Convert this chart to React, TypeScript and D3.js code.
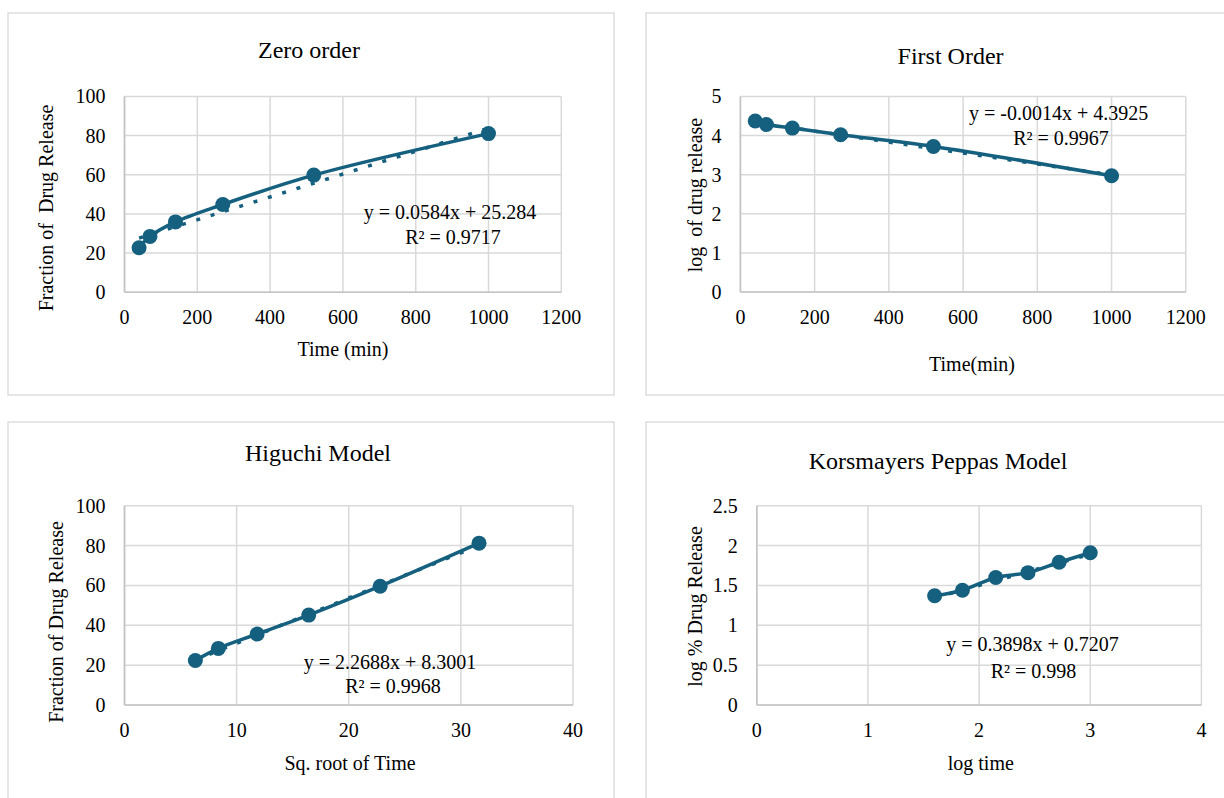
import React from 'react';
import * as d3 from 'd3';

// values
const timeMin = [40, 70, 140, 270, 520, 1000];
const zeroRelease = [22.7, 28.5, 35.9, 44.8, 59.8, 81.0];
const firstLogRelease = [4.37, 4.28, 4.19, 4.02, 3.72, 2.97];
const sqrtTime = [6.32, 8.37, 11.83, 16.43, 22.8, 31.62];
const higuchiRelease = [22.3, 28.4, 35.6, 45.1, 59.6, 81.2];
const logTime = [1.6, 1.85, 2.15, 2.44, 2.72, 3.0];
const logRelease = [1.37, 1.44, 1.6, 1.66, 1.79, 1.91];

// trendline coefficients [slope, intercept] as printed on the charts
const zeroFit = [0.0584, 25.284];
const firstFit = [-0.0014, 4.3925];
const higuchiFit = [2.2688, 8.3001];
const peppasFit = [0.3898, 0.7207];

const timeTicks = [0, 200, 400, 600, 800, 1000, 1200];
const percentTicks = [0, 20, 40, 60, 80, 100];
const firstTicks = [0, 1, 2, 3, 4, 5];
const sqrtTicks = [0, 10, 20, 30, 40];
const logTimeTicks = [0, 1, 2, 3, 4];
const logReleaseTicks = [0, 0.5, 1, 1.5, 2, 2.5];

const BLUE = '#16607f';
const GRID = '#d9d9d9';
const FONT = '"Liberation Serif", "Times New Roman", serif';

type PanelProps = {
  box: [number, number, number, number];
  plot: [number, number, number, number]; // left, right, top, bottom
  title: string;
  titlePos: [number, number];
  xLabel: string;
  xLabelPos: [number, number];
  yLabel: string;
  yLabelPos: [number, number];
  xs: number[];
  ys: number[];
  xTicks: number[];
  yTicks: number[];
  fit: number[];
  eq: string;
  r2: string;
  eqPos: [number, number];
  r2Pos: [number, number];
};

const Panel = (p: PanelProps) => {
  const [left, right, top, bottom] = p.plot;
  const x = d3.scaleLinear()
    .domain([p.xTicks[0], p.xTicks[p.xTicks.length - 1]])
    .range([left, right]);
  const y = d3.scaleLinear()
    .domain([p.yTicks[0], p.yTicks[p.yTicks.length - 1]])
    .range([bottom, top]);

  const pts: [number, number][] = p.xs.map((v, i) => [v, p.ys[i]]);
  const line = d3.line<[number, number]>()
    .x(d => x(d[0]))
    .y(d => y(d[1]))
    .curve(d3.curveCatmullRom);

  const x0 = d3.min(p.xs)!;
  const x1 = d3.max(p.xs)!;
  const trend: [number, number][] = [x0, x1].map(v => [v, p.fit[0] * v + p.fit[1]]);

  return (
    <g>
      <rect x={p.box[0]} y={p.box[1]} width={p.box[2]} height={p.box[3]}
        fill="#fff" stroke={GRID} strokeWidth={1.3} />
      <text x={p.titlePos[0]} y={p.titlePos[1]} textAnchor="middle"
        fontSize={24} fill="#000">{p.title}</text>

      {p.yTicks.map(t => (
        <line key={'gy' + t} x1={left} x2={right} y1={y(t)} y2={y(t)}
          stroke={GRID} strokeWidth={1.5} />
      ))}
      {p.xTicks.map(t => (
        <line key={'gx' + t} x1={x(t)} x2={x(t)} y1={top} y2={bottom}
          stroke={GRID} strokeWidth={1.5} />
      ))}
      <line x1={left} x2={right} y1={bottom} y2={bottom} stroke="#c4c4c4" strokeWidth={1.6} />
      <line x1={left} x2={left} y1={top} y2={bottom} stroke="#c4c4c4" strokeWidth={1.6} />

      {p.yTicks.map(t => (
        <text key={'ty' + t} x={left - 19} y={y(t)} dy="0.35em" textAnchor="end"
          fontSize={20} fill="#000">{t}</text>
      ))}
      {p.xTicks.map(t => (
        <text key={'tx' + t} x={x(t)} y={bottom + 32} textAnchor="middle"
          fontSize={20} fill="#000">{t}</text>
      ))}

      <text x={p.xLabelPos[0]} y={p.xLabelPos[1]} textAnchor="middle"
        fontSize={20} fill="#000">{p.xLabel}</text>
      <text transform={`translate(${p.yLabelPos[0]},${p.yLabelPos[1]}) rotate(-90)`}
        dy="0.35em" textAnchor="middle" fontSize={20} fill="#000"
        style={{ whiteSpace: 'pre' }}>{p.yLabel}</text>

      <path d={d3.line<[number, number]>().x(d => x(d[0])).y(d => y(d[1]))(trend)!}
        fill="none" stroke={BLUE} strokeWidth={3.5} strokeDasharray="4 11" />
      <path d={line(pts)!} fill="none" stroke={BLUE} strokeWidth={3.5} />
      {pts.map((d, i) => (
        <circle key={i} cx={x(d[0])} cy={y(d[1])} r={7.5} fill={BLUE} />
      ))}

      <text x={p.eqPos[0]} y={p.eqPos[1]} textAnchor="middle" fontSize={20} fill="#000">{p.eq}</text>
      <text x={p.r2Pos[0]} y={p.r2Pos[1]} textAnchor="middle" fontSize={20} fill="#000">{p.r2}</text>
    </g>
  );
};

export default function App() {
  return (
    <svg width={1224} height={798} fontFamily={FONT}
      style={{ position: 'absolute', left: 0, top: 0, background: '#fff' }}>
      <Panel
        box={[8, 13, 606, 382]} plot={[124.5, 561.3, 96.4, 292.2]}
        title="Zero order" titlePos={[309, 58]}
        xLabel="Time (min)" xLabelPos={[343, 356]}
        yLabel="Fraction of  Drug Release" yLabelPos={[46, 208]}
        xs={timeMin} ys={zeroRelease} xTicks={timeTicks} yTicks={percentTicks}
        fit={zeroFit} eq="y = 0.0584x + 25.284" r2="R² = 0.9717"
        eqPos={[450, 219]} r2Pos={[453, 243.5]} />
      <Panel
        box={[646, 13, 590, 382]} plot={[740.4, 1185.8, 96.4, 292]}
        title="First Order" titlePos={[950.6, 64]}
        xLabel="Time(min)" xLabelPos={[972, 370.6]}
        yLabel="log  of drug release" yLabelPos={[695, 195]}
        xs={timeMin} ys={firstLogRelease} xTicks={timeTicks} yTicks={firstTicks}
        fit={firstFit} eq="y = -0.0014x + 4.3925" r2="R² = 0.9967"
        eqPos={[1058.6, 120.4]} r2Pos={[1061, 144.5]} />
      <Panel
        box={[8, 422, 606, 390]} plot={[124.5, 573, 505.7, 705]}
        title="Higuchi Model" titlePos={[318, 461]}
        xLabel="Sq. root of Time" xLabelPos={[350, 769.6]}
        yLabel="Fraction of Drug Release" yLabelPos={[55.6, 622]}
        xs={sqrtTime} ys={higuchiRelease} xTicks={sqrtTicks} yTicks={percentTicks}
        fit={higuchiFit} eq="y = 2.2688x + 8.3001" r2="R² = 0.9968"
        eqPos={[390, 668.6]} r2Pos={[393, 692.6]} />
      <Panel
        box={[646, 422, 590, 390]} plot={[756.8, 1201.4, 505.7, 705]}
        title="Korsmayers Peppas Model" titlePos={[938, 468.6]}
        xLabel="log time" xLabelPos={[980.8, 769.6]}
        yLabel="log % Drug Release" yLabelPos={[695, 606.5]}
        xs={logTime} ys={logRelease} xTicks={logTimeTicks} yTicks={logReleaseTicks}
        fit={peppasFit} eq="y = 0.3898x + 0.7207" r2="R² = 0.998"
        eqPos={[1032.5, 650.8]} r2Pos={[1033.5, 677.6]} />
    </svg>
  );
}
